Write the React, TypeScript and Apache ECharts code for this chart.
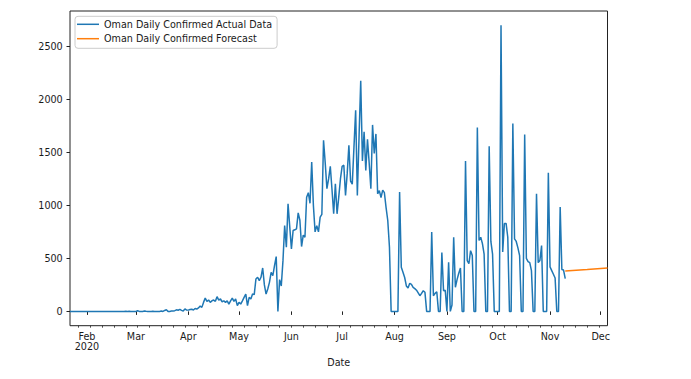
import React, { useEffect, useRef } from "react";
import * as echarts from "echarts";

// ---------- data ----------
const seriesNames = ["Oman Daily Confirmed Actual Data", "Oman Daily Confirmed Forecast"];

const actualStartDate = "2020-01-22";
// daily confirmed cases, one value per day from 2020-01-22
const actualJanFeb = [
  0, 0, 0, 0, 0, 0, 0, 0, 0, 0, 0, 0, 0, 0, 0, 0, 0, 0, 0, 0, 0, 0, 0, 0, 0, 0, 0, 0, 0, 0, 0, 0, 0,
];
const actualMarch = [
  2, 0, 2, 0, 0, 0, 0, 6, 0, 0, 0, 3, 1, 0, 0, 0, 2, 0, 0, 0, 0, 3, 0, 9, 15, 0, 0, 3, 4, 7, 15, 11,
  19, 10, 3, 24, 13,
];
const actualAprMay = [
  12, 18, 21, 13, 27, 22, 33, 50, 38, 85,
  126, 95, 107, 85, 100, 107, 95, 139, 107, 117,
  91, 100, 85, 100, 69, 100, 126, 95, 117, 54,
  85, 69, 100, 132, 164, 54, 132, 117, 164, 158,
  306, 322, 290, 322, 410, 250, 164, 211, 274, 369,
  337, 432, 517, 0, 300, 240, 479, 810, 605, 1015,
];
const actualJunJul = [
  800, 590, 763, 770, 779, 930, 860, 612, 720, 700,
  1078, 1120, 1020, 1410, 1000, 750, 810, 750, 890, 915,
  1615, 1400, 1158, 1250, 1369, 1150, 921, 1205, 921, 1078,
  1250, 1369, 1380, 1095, 1300, 1568, 1230, 1200, 1550, 1899,
  1095, 1640, 2176, 1420, 1694, 1331, 1625, 1400, 1158, 1760,
  1490, 1675, 1110, 1140, 1075, 1145, 1120, 980, 858, 605,
];
const actualAugNov = [
  0, 0, 0, 0, 0, 1126, 417, 370, 320, 240,
  221, 265, 255, 227, 215, 200, 175, 148, 170, 195,
  180, 0, 0, 0, 748, 148, 170, 185, 0, 0,
  555, 195, 200, 0, 464, 0, 60, 700, 227, 300,
  360, 410, 0, 0, 1419, 480, 450, 573, 527, 0,
  0, 1735, 669, 700, 640, 540, 0, 0, 1558, 660,
  540, 0, 0, 0, 0, 2700, 560, 830, 830, 700,
  0, 0, 1773, 685, 660, 600, 527, 0, 0, 1669,
  500, 470, 460, 385, 0, 0, 1110, 460, 480, 622,
  0, 0, 0, 1309, 420, 385, 350, 315, 0, 0,
  984, 395, 390, 310,
];

const forecastDates = ["2020-11-10", "2020-11-23", "2020-12-05"];
const forecastValues = [381, 395, 409];

const xAxisStart = "2020-01-22";
const xAxisEnd = "2020-12-05";
const monthTickDates = [
  "2020-02-01", "2020-03-01", "2020-04-01", "2020-05-01", "2020-06-01", "2020-07-01",
  "2020-08-01", "2020-09-01", "2020-10-01", "2020-11-01", "2020-12-01",
];
const monthNames = ["Jan", "Feb", "Mar", "Apr", "May", "Jun", "Jul", "Aug", "Sep", "Oct", "Nov", "Dec"];
const firstMonday = "2020-01-27";
const yTickValues = [0, 500, 1000, 1500, 2000, 2500];
const yMin = -135;
const yMax = 2835;

// ---------- helpers ----------
const DAY = 86400000;
const ts = (s: string) => Date.parse(s);

const actualValues = [
  ...actualJanFeb,
  ...actualMarch,
  ...actualAprMay,
  ...actualJunJul,
  ...actualAugNov,
];
const actualData = actualValues.map((v, i) => [ts(actualStartDate) + i * DAY, v]);
const forecastData = forecastDates.map((d, i) => [ts(d), forecastValues[i]]);

const xMin = ts(xAxisStart);
const xMax = ts(xAxisEnd);
const monthTicks = monthTickDates.map(ts);
const weekTicks: number[] = [];
for (let t = ts(firstMonday); t <= xMax; t += 7 * DAY) weekTicks.push(t);

const FONT = "DejaVu Sans";
const FS = 9.6;
const INK = "#1a1a1a";

export default function App() {
  const ref = useRef<HTMLDivElement>(null);

  useEffect(() => {
    if (!ref.current) return;
    const chart = echarts.init(ref.current, null, { renderer: "svg" });
    const option: any = {
      animation: false,
      backgroundColor: "#ffffff",
      grid: {
        left: 70,
        top: 11,
        width: 537.5,
        height: 314.7,
        show: true,
        borderColor: "#222",
        borderWidth: 1,
        backgroundColor: "transparent",
      },
      legend: {
        left: 75,
        top: 16.3,
        orient: "vertical",
        data: seriesNames.map((n) => ({ name: n, icon: "rect" })),
        itemWidth: 22,
        itemHeight: 1.5,
        itemGap: 2.4,
        padding: [2, 5, 3.6, 2],
        backgroundColor: "rgba(255,255,255,0.8)",
        borderColor: "#cccccc",
        borderWidth: 1,
        borderRadius: 3,
        selectedMode: false,
        textStyle: { fontFamily: FONT, fontSize: FS, color: INK, lineHeight: 12 },
      },
      xAxis: [
        {
          type: "value",
          min: xMin,
          max: xMax,
          position: "bottom",
          axisLine: { show: false },
          splitLine: { show: false },
          axisTick: {
            show: true,
            customValues: monthTicks,
            length: 3.5,
            lineStyle: { color: "#222", width: 1 },
          },
          axisLabel: {
            customValues: monthTicks,
            margin: 5.5,
            color: INK,
            fontFamily: FONT,
            fontSize: FS,
            lineHeight: 10.5,
            formatter: (v: number) => {
              const d = new Date(v);
              const m = monthNames[d.getUTCMonth()];
              return d.getUTCMonth() === 1 ? m + "\n" + d.getUTCFullYear() : m;
            },
          },
          name: "Date",
          nameLocation: "middle",
          nameGap: 29.5,
          nameTextStyle: { fontFamily: FONT, fontSize: FS, color: INK },
        },
        {
          type: "value",
          min: xMin,
          max: xMax,
          position: "bottom",
          axisLine: { show: false },
          splitLine: { show: false },
          axisLabel: { show: false },
          axisTick: {
            show: true,
            customValues: weekTicks,
            length: 2,
            lineStyle: { color: "#222", width: 0.8 },
          },
        },
      ],
      yAxis: {
        type: "value",
        min: yMin,
        max: yMax,
        axisLine: { show: false },
        splitLine: { show: false },
        axisTick: {
          show: true,
          customValues: yTickValues,
          length: 3.5,
          lineStyle: { color: "#222", width: 1 },
        },
        axisLabel: {
          customValues: yTickValues,
          margin: 7.3,
          color: INK,
          fontFamily: FONT,
          fontSize: FS,
          formatter: (v: number) => String(v),
        },
      },
      series: [
        {
          name: seriesNames[0],
          type: "line",
          xAxisIndex: 0,
          data: actualData,
          symbol: "none",
          lineStyle: { color: "#1f77b4", width: 1.5 },
          itemStyle: { color: "#1f77b4" },
        },
        {
          name: seriesNames[1],
          type: "line",
          xAxisIndex: 0,
          data: forecastData,
          symbol: "none",
          lineStyle: { color: "#ff7f0e", width: 1.5 },
          itemStyle: { color: "#ff7f0e" },
        },
      ],
    };
    chart.setOption(option);
    return () => chart.dispose();
  }, []);

  return (
    <div
      ref={ref}
      style={{ position: "absolute", left: 0, top: 0, width: 691, height: 379 }}
    />
  );
}
